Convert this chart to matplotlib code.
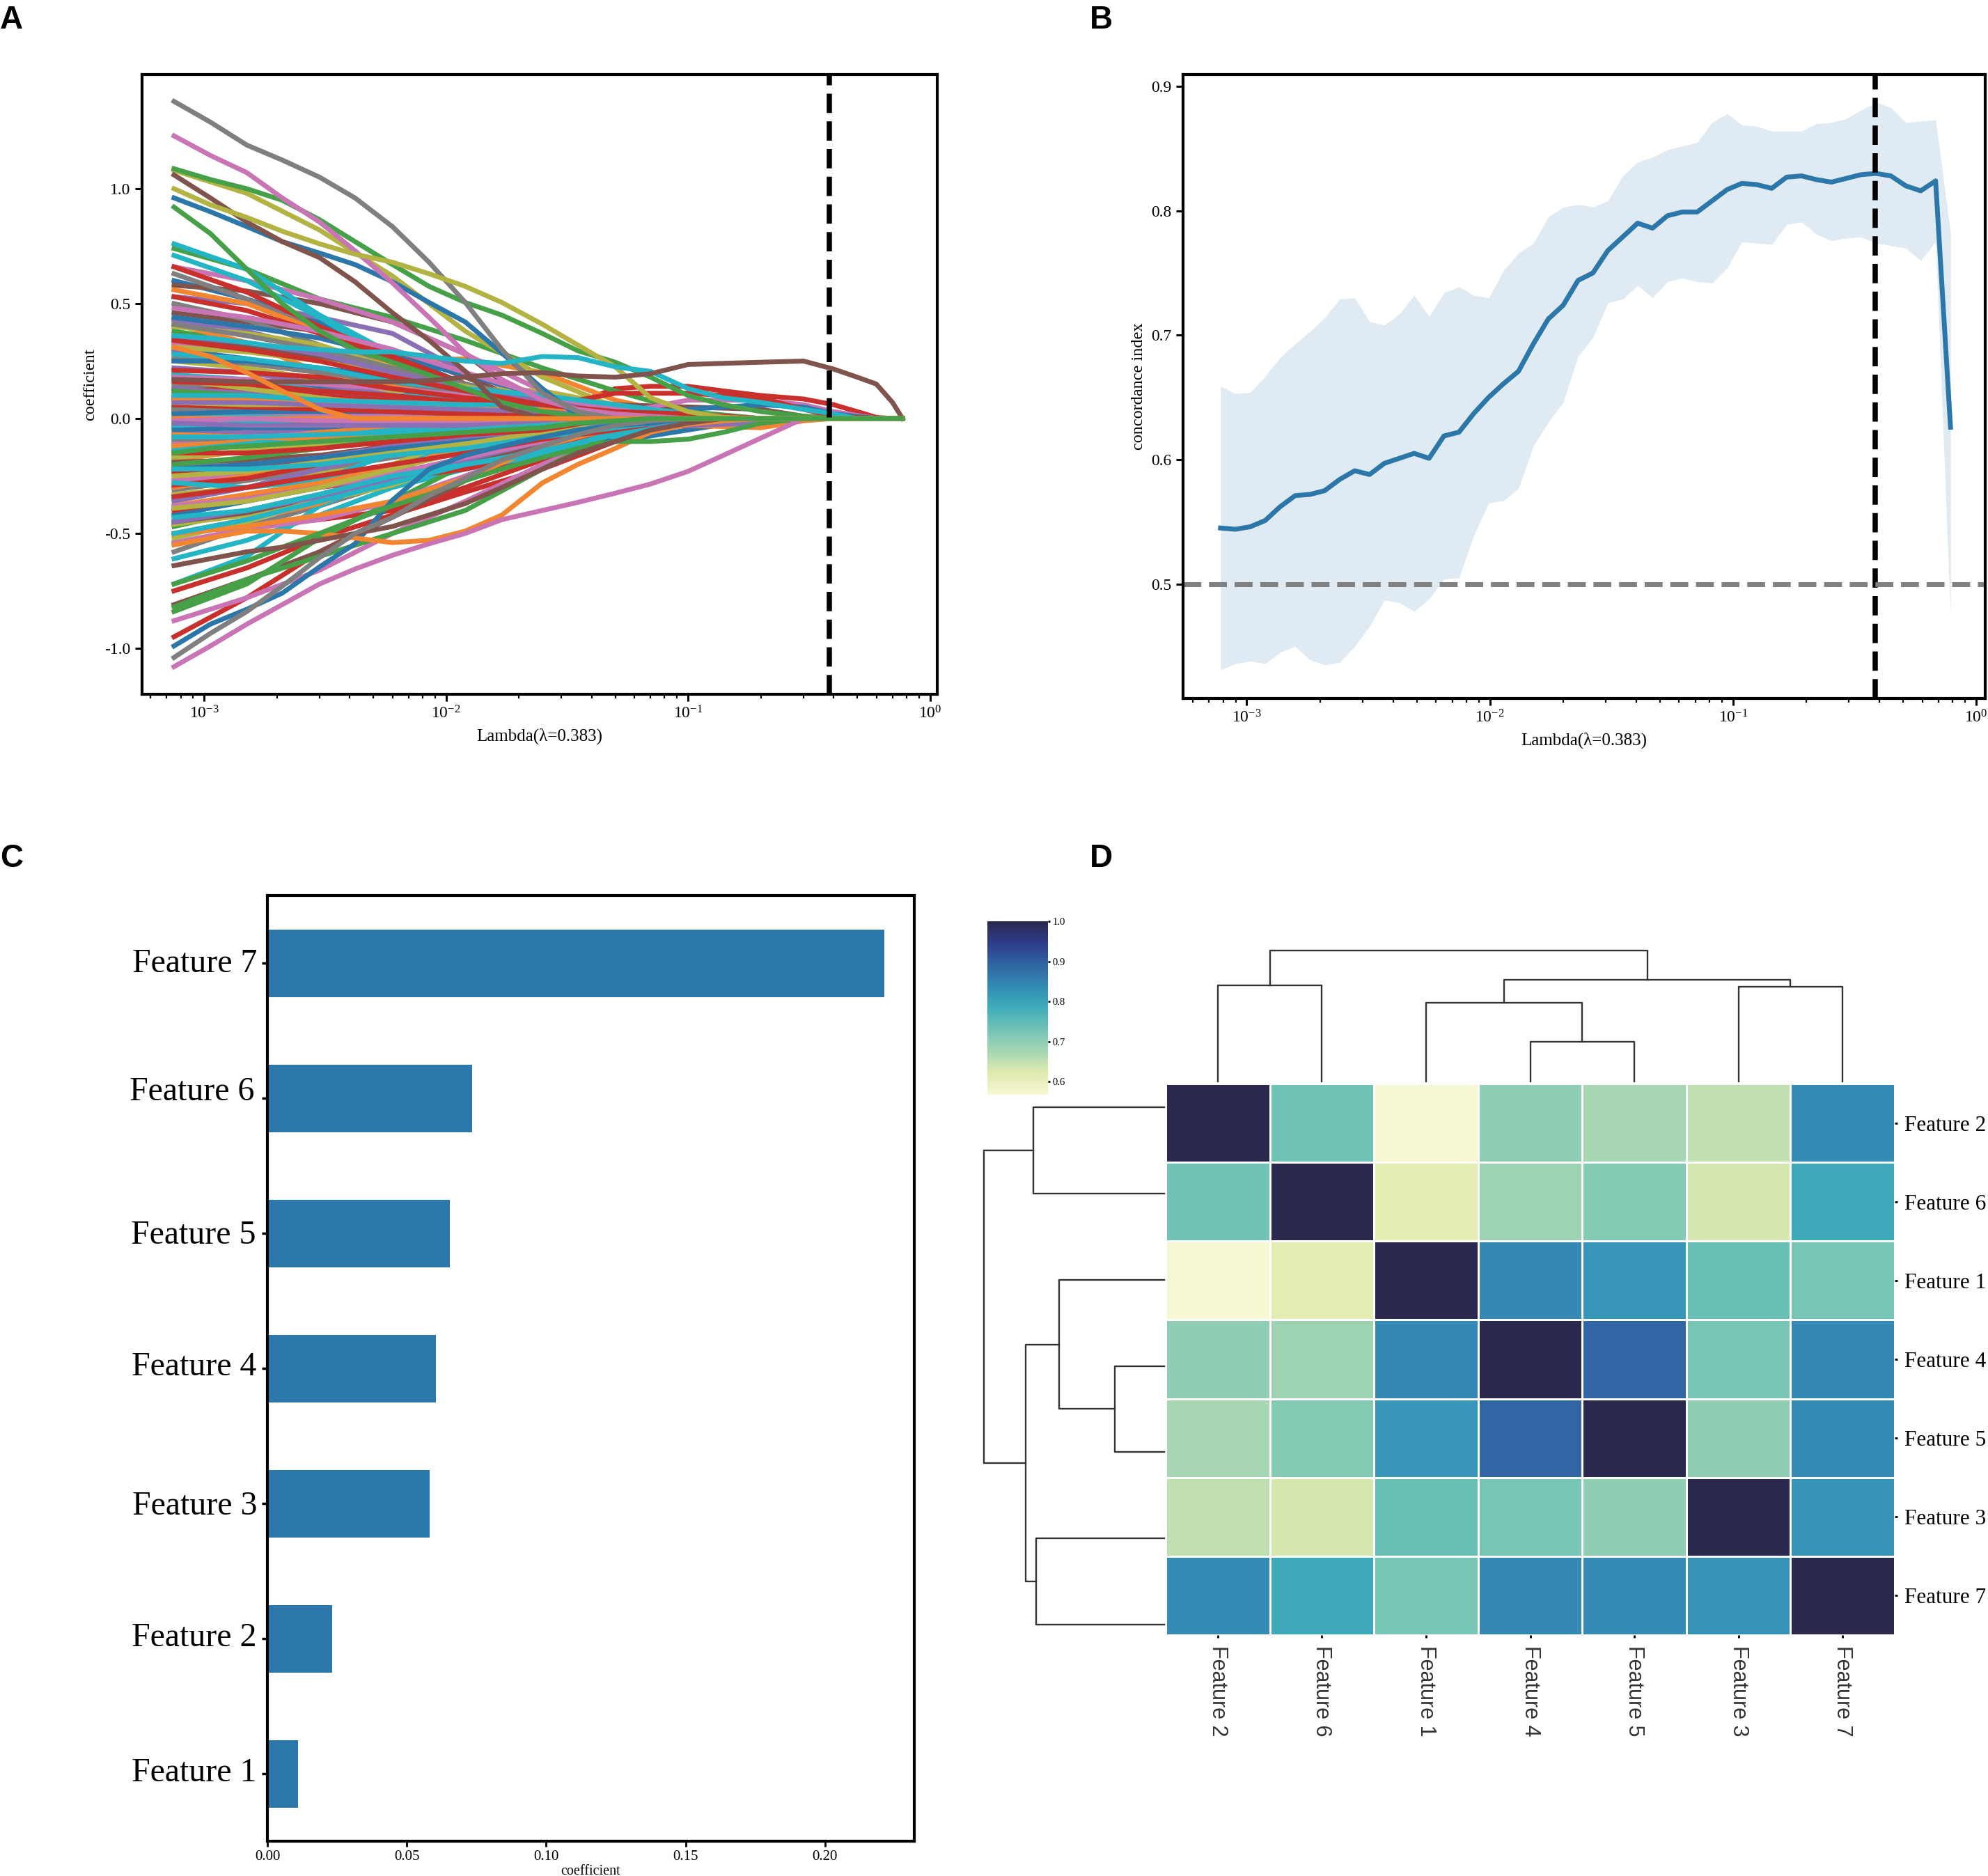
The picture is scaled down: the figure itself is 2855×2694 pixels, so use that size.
import matplotlib
matplotlib.use("Agg")
import matplotlib.pyplot as plt
from matplotlib.colors import LinearSegmentedColormap

W, H = 2855, 2694

plt.rcParams['font.family'] = ['Liberation Serif', 'DejaVu Serif']
plt.rcParams['mathtext.fontset'] = 'stix'

line_colors = ['#2c77aa', '#f28530', '#45a047', '#c9302c', '#8b6fb5',
               '#80544c', '#c974b5', '#7f7f7f', '#b2b342', '#23b5c5']

# ---- panel A: coefficient paths, read at these lambdas, zero after the list ends
path_lambda = [0.00075, 0.0015, 0.003, 0.006, 0.012, 0.025, 0.05, 0.1, 0.2, 0.3, 0.4, 0.6, 0.77]

paths_blue = [
    [.60, .52, .42, .28, .15, .05],
    [.30, .26, .2, .13, .07, .02],
    [.19, .16, .13, .09, .06, .02],
    [.09, .07, .05, .03, .01],
    [.44, .4, .35, .27, .19, .1, .04],
    [-.42, -.36, -.3, -.2, -.12, -.08, -.1, -.05],
    [.05, .04, .03, .02, .01, 0, .01, .04, .06, .05, .02],
    [-.05, -.04, -.04, -.03, -.03, -.02, -.02, -.01],
    [.25, .25, .22, .18, .12, .08, .03],
    [-.22, -.2, -.17, -.13, -.1, -.07, -.04, -.02],
    [.02, .03, .03, .03, .02, .02, .01],
]
paths_orange = [
    [.32, .3, .28, .25, .26, .2, .08, .01],
    [.56, .5, .38, .24, .12, .06, .02],
    [.41, .33, .2, .08, .03],
    [.26, .24, .2, .15, .12, .08, .05, .02],
    [.18, .14, .1, .06, .04, .02],
    [-.18, -.14, -.09, -.05, -.02],
    [-.3, -.25, -.2, -.14, -.08, -.03],
    [-.5, -.44, -.37, -.24, -.1, -.03],
    [-.38, -.33, -.28, -.21, -.14, -.07, -.03],
    [-.12, -.1, -.06, -.04, -.02],
    [-.5, -.47, -.42, -.36, -.26, -.12, -.04],
    [0, 0, 0, 0, 0, 0, -.01, -.03, -.04, -.01],
    [.09, .09, .08, .07, .06, .05, .03, .01],
    [-.07, -.08, -.09, -.08, -.05, -.03],
]
paths_green = [
    [.74, .65, .52, .44, .34, .22, .12, .03],
    [.38, .33, .26, .17, .1, .05, .02],
    [.03, .02, .01],
    [-.11, -.09, -.07, -.05, -.03, -.02, -.01],
    [-.47, -.4, -.33, -.25, -.17, -.12, -.06],
    [-.82, -.7, -.6, -.5, -.4, -.22, -.06, -.02],
    [-.84, -.72, -.52, -.36, -.2, -.07, -.02],
    [-.2, -.17, -.13, -.09, -.05, -.02],
    [.12, .1, .08, .06, .05, .04, .02],
]
paths_red = [
    [-.95, -.78, -.58, -.42, -.26, -.15, -.05, -.01],
    [-.75, -.65, -.52, -.42, -.32, -.22, -.1, -.02],
    [-.5, -.47, -.44, -.4, -.3, -.18, -.08],
    [-.24, -.21, -.18, -.13, -.08, -.04],
    [.66, .55, .4, .27, .15, .06, .01],
    [.12, .13, .11, .08, .05, .05, .04, .01],
    [-.29, -.26, -.2, -.1, -.04, -.02],
    [.53, .47, .37, .26, .15, .06, .02],
    [-.4, -.35, -.3, -.26, -.22, -.14, -.06, -.03],
    [.16, .15, .12, .1, .07, .05, .11, .11, .09, .04, .01],
    [.06, .05, .04, .03, .02, .01],
    [-.15, -.15, -.13, -.1, -.07, -.05, -.03],
    [-.34, -.3, -.25, -.2, -.15, -.09, -.05, -.02],
    [.34, .3, .25, .18, .12, .06, .03],
    [.21, .2, .18, .13, .09, .06, .03, .02],
]
paths_purple = [
    [.53, .5, .44, .37, .2, .08, .03],
    [.43, .38, .3, .2, .12, .05, .01],
    [.29, .25, .21, .15, .1, .05, .02],
    [-.07, -.06, -.05, -.04, -.03, -.03, -.04, -.03, -.01],
    [-.13, -.11, -.08, -.05, -.03, -.02, -.01],
    [.13, .11, .08, .06, .03, .02, .01],
    [-.36, -.3, -.22, -.14, -.08, -.04],
    [.22, .2, .15, .1, .07, .03],
    [-.22, -.2, -.17, -.12, -.09, -.05, -.03],
    [.36, .33, .28, .2, .13, .08, .03],
    [-.45, -.4, -.34, -.26, -.18, -.1, -.04],
    [.07, .07, .06, .05, .04, .03, .03, .02],
    [-.02, -.03, -.03, -.03, -.03, -.02, -.02, -.03, -.02],
]
paths_brown = [
    [.58, .555, .5, .42, .28, .03],
    [.46, .42, .38, .3, .18, .05],
    [-.81, -.7, -.58, -.43, -.27, -.13, -.05],
    [-.03, -.03, -.02, -.02, -.01],
    [.09, .08, .07, .06, .05, .04, .06, .05, .04, .01],
    [.35, .32, .26, .19, .13, .07, .02],
    [-.19, -.18, -.16, -.12, -.08, -.04],
    [-.45, -.41, -.34, -.26, -.19, -.11, -.04],
]
paths_pink = [
    [.66, .6, .52, .42, .28, .12, .05, .02],
    [.33, .3, .26, .2, .13, .06, .02],
    [-.88, -.78, -.66, -.5, -.36, -.2, -.07, -.01],
    [-.27, -.24, -.2, -.16, -.1, -.05],
    [-.1, -.09, -.06, -.04, -.02],
    [0, 0, 0, 0, 0, .01, .02, .08, .08, .06, .03],
    [.04, .03, .02, .01],
    [-.54, -.48, -.44, -.36, -.25, -.12, -.04],
    [.18, .17, .15, .13, .1, .07, .04, .02],
    [.48, .44, .38, .3, .2, .1, .04],
    [-.38, -.35, -.3, -.24, -.17, -.1, -.04],
    [-.01, 0, -.01, -.01, -.02, -.01, -.01],
]
paths_gray = [
    [.63, .52, .38, .2, .05],
    [.5, .43, .32, .2, .1, .05, .02],
    [-.58, -.47, -.38, -.28, -.18, -.08, -.03],
    [.14, .13, .11, .1, .07, .04, .01],
    [-.2, -.18, -.16, -.14, -.1, -.05, -.02],
    [-.31, -.27, -.22, -.17, -.12, -.06, -.02],
    [.26, .24, .2, .16, .11, .07, .03],
    [-.09, -.09, -.08, -.07, -.06, -.04, -.02],
    [.41, .36, .3, .22, .15, .08, .03],
    [.04, .05, .04, .04, .03, .02, .01],
]
paths_olive = [
    [1.08, .98, .82, .62, .38, .18, .05],
    [.25, .22, .17, .12, .13, .12, .06, .01],
    [.4, .37, .32, .22, .13, .05, .02],
    [-.33, -.3, -.24, -.15, -.08, -.03],
    [-.46, -.42, -.36, -.29, -.18, -.07],
    [-.17, -.14, -.11, -.08, -.04, -.01],
    [.17, .13, .09, .05, .02],
    [-.52, -.45, -.35, -.2, -.08],
    [.31, .29, .25, .19, .14, .08, .04, .01],
    [-.25, -.23, -.19, -.15, -.11, -.06, -.02],
    [.07, .06, .06, .05, .05, .04, .02],
    [-.39, -.36, -.3, -.22, -.14, -.07, -.02],
]
paths_cyan = [
    [.76, .65, .45, .28, .12, .05],
    [.71, .6, .44, .25, .14, .08, .02],
    [.02, .02, .01],
    [-.61, -.53, -.42, -.3, -.22, -.16, -.08, -.02],
    [-.72, -.6, -.38, -.24, -.2, -.13, -.05],
    [-.35, -.3, -.26, -.2, -.12, -.05],
    [-.28, -.3, -.27, -.15, -.08, -.03],
    [.19, .17, .12, .1, .09, .09, .04],
    [-.03, -.02, 0, -.02, -.02, -.01],
    [-.14, -.11, -.08, -.05, -.02],
    [-.43, -.4, -.33, -.25, -.2, -.15, -.06],
    [.28, .26, .22, .16, .13, .1, .06, .02],
    [-.22, -.22, -.2, -.16, -.13, -.08, -.04],
    [.1, .1, .08, .07, .06, .06, .03],
    [-.08, -.08, -.07, -.06, -.05, -.03, -.01],
    [-.5, -.44, -.36, -.28, -.2, -.14, -.07, -.02],
]

# the outer, easily seen paths were read more closely
fine_lambda = [.00075, .00106, .0015, .0021, .003, .0042, .006, .0085, .012, .017, .025, .035,
               .05, .07, .1, .14, .2, .3, .4, .5, .6, .7, .77]
fine_gray_top = [1.38, 1.29, 1.19, 1.125, 1.05, .96, .835, .68, .505, .30, .11, .03]
fine_pink_top = [1.23, 1.145, 1.07, .96, .855, .73, .59, .44, .285, .17, .08, .04, .02, .01]
fine_green_top = [1.087, 1.04, 1.0, .95, .865, .77, .67, .575, .505, .45, .37, .295, .245, .18, .10, .06, .03, .01]
fine_olive_top = [1.0, .93, .875, .815, .76, .715, .68, .63, .575, .505, .41, .32, .225, .09, .03, .005]
fine_brown_top = [1.06, .96, .855, .77, .70, .595, .46, .34, .205, .05]
fine_blue_top = [.96, .90, .835, .77, .72, .67, .595, .505, .42, .285, .13, .01]
fine_green_steep = [.92, .805, .65, .50, .38, .30, .245, .19, .13, .07, .03, .01]
fine_pink_low = [-1.08, -.99, -.895, -.81, -.72, -.655, -.595, -.545, -.5, -.44, -.40, -.365,
                 -.325, -.285, -.23, -.16, -.085]
fine_orange_low = [-.55, -.52, -.49, -.49, -.50, -.52, -.54, -.53, -.49, -.42, -.28, -.2, -.13, -.06, -.025, -.01]
fine_brown_flat = [.17, .165, .16, .16, .16, .16, .16, .165, .18, .195, .2, .185, .18, .195, .235,
                   .24, .245, .25, .215, .18, .15, .07, 0]
fine_cyan_flat = [.36, .35, .33, .31, .30, .29, .29, .27, .25, .24, .27, .265, .225, .205, .13,
                  .09, .07, .04, .02]
fine_red_bump = [.03, .03, .02, .02, .02, .02, .02, .03, .04, .04, .05, .07, .13, .14, .14, .12,
                 .10, .085, .06, .03, .005]
fine_blue_low = [-.99, -.895, -.83, -.76, -.645, -.545, -.355, -.22, -.16, -.12, -.08, -.05, -.03, -.02]
fine_gray_low = [-1.04, -.935, -.84, -.73, -.605, -.5, -.43, -.335, -.26, -.18, -.12, -.07, -.03, -.01]
fine_brown_low = [-.64, -.61, -.58, -.56, -.53, -.5, -.47, -.42, -.37, -.3, -.22, -.15, -.1, -.05, -.02]
fine_green_low = [-.72, -.67, -.62, -.56, -.5, -.44, -.38, -.33, -.27, -.22, -.17, -.13, -.1, -.1, -.09, -.06, -.02]
# these two lie on zero on top of everything else
fine_orange_zero = [.31, .27, .2, .12, .04]
fine_green_zero = [-.15, -.13, -.12, -.11, -.1, -.09, -.08, -.07, -.06, -.05, -.04, -.02, -.01]

# ---- panel B: cross validated concordance index
cv_lambda = [.00078, .000898, .001034, .00119, .00137, .00158, .00182, .00209, .00241, .00278,
             .0032, .00368, .00424, .00488, .00562, .00647, .00746, .00858, .00988, .01138,
             .01311, .01509, .01738, .02001, .02304, .02653, .03055, .03519, .04051, .04666,
             .05372, .06187, .07123, .08204, .09447, .10876, .12525, .14423, .16608, .19125,
             .22023, .25362, .292, .33626, .38726, .44585, .51345, .59127, .68077, .78398]
cv_mean = [.545, .544, .546, .551, .562, .571, .572, .575, .584, .591,
           .588, .597, .601, .605, .601, .619, .622, .637, .650, .661,
           .671, .693, .713, .724, .744, .750, .768, .779, .790, .786,
           .796, .799, .799, .808, .817, .822, .821, .818, .827, .828,
           .825, .823, .826, .829, .830, .828, .820, .816, .824, .626]
cv_upper = [.659, .653, .654, .667, .682, .693, .703, .714, .729, .730,
            .711, .708, .717, .732, .715, .734, .739, .732, .730, .752,
            .766, .774, .795, .803, .805, .803, .808, .828, .839, .843,
            .849, .852, .855, .871, .878, .869, .868, .864, .864, .864,
            .870, .871, .874, .881, .887, .883, .871, .872, .873, .782]
cv_lower = [.431, .436, .438, .436, .445, .450, .439, .435, .437, .450,
            .466, .487, .485, .478, .488, .504, .505, .539, .565, .567,
            .577, .611, .630, .646, .683, .698, .726, .729, .740, .730,
            .743, .746, .743, .742, .754, .775, .774, .773, .789, .791,
            .781, .776, .778, .779, .774, .772, .770, .760, .775, .473]
best_lambda = 0.383

# ---- panel C: selected features
bar_names = ['Feature 1', 'Feature 2', 'Feature 3', 'Feature 4', 'Feature 5', 'Feature 6', 'Feature 7']
bar_values = [.0109, .0232, .0583, .0605, .0655, .0733, .2212]
# the labels sit a little off their ticks in the figure (pixels)
bar_label_dx = [-16, -16, -15, -16, -17, -19, -15]
bar_label_dy = [1, 1, -4, 2, -3, 9, -1]

# ---- panel D: correlation matrix and its clustering
heat_names = ['Feature 2', 'Feature 6', 'Feature 1', 'Feature 4', 'Feature 5', 'Feature 3', 'Feature 7']
heat_values = [
    [1.00, .73, .567, .70, .675, .65, .835],
    [.73, 1.00, .615, .685, .71, .63, .79],
    [.567, .615, 1.00, .84, .82, .74, .725],
    [.70, .685, .84, 1.00, .89, .725, .84],
    [.675, .71, .82, .89, 1.00, .70, .835],
    [.65, .63, .74, .725, .70, 1.00, .825],
    [.835, .79, .725, .84, .835, .825, 1.00],
]
heat_colors = ['#f7f7d4', '#dfeaae', '#a6d6b2', '#72c3b5', '#3fadba', '#338bb5', '#3065a2', '#2e3d88', '#2b2850']
# merges as in a linkage table: leaves 0-6, every merge makes the next id
col_link_a = [3, 2, 5, 0, 8, 10]
col_link_b = [4, 7, 6, 1, 9, 11]
col_link_h = [.305, .6, .722, .732, .776, 1.0]
row_link_a = [3, 2, 5, 0, 8, 10]
row_link_b = [4, 7, 6, 1, 9, 11]
row_link_h = [.273, .582, .709, .724, .767, 1.0]

fig = plt.figure(figsize=(W / 100, H / 100), dpi=100, facecolor='white')


def px_axes(left, right, top, bottom):
    return fig.add_axes([left / W, 1 - bottom / H, (right - left) / W, (bottom - top) / H])


def draw_dendro(ax, link_a, link_b, link_h, horizontal):
    pos = {i: i + 0.5 for i in range(7)}
    height = {i: 0.0 for i in range(7)}
    for k, (a, b, h) in enumerate(zip(link_a, link_b, link_h)):
        xs = [pos[a], pos[a], pos[b], pos[b]]
        ys = [height[a], h, h, height[b]]
        if horizontal:
            ax.plot(ys, xs, color='#333333', lw=1.7, clip_on=False)
        else:
            ax.plot(xs, ys, color='#333333', lw=1.7, clip_on=False)
        pos[7 + k] = (pos[a] + pos[b]) / 2
        height[7 + k] = h
    ax.axis('off')


def draw_path(ax, lams, vals, color):
    # lasso coefficients stay at zero once they have dropped out
    vals = vals + [0] * (len(lams) - len(vals))
    ax.plot(lams, vals, color=color, lw=5)


# panel A
ax = px_axes(204, 1346, 107, 997)
draw_path(ax, fine_lambda, fine_red_bump, line_colors[3])
groups = [paths_blue, paths_orange, paths_green, paths_red, paths_purple,
          paths_brown, paths_pink, paths_gray, paths_olive, paths_cyan]
for n in range(max(len(g) for g in groups)):
    for c, g in enumerate(groups):
        if n < len(g):
            draw_path(ax, path_lambda, g[n], line_colors[c])
fine_paths = [(fine_blue_top, 0), (fine_blue_low, 0), (fine_orange_low, 1), (fine_green_top, 2),
              (fine_green_steep, 2), (fine_green_low, 2), (fine_brown_top, 5),
              (fine_brown_low, 5), (fine_pink_top, 6), (fine_pink_low, 6), (fine_gray_top, 7),
              (fine_gray_low, 7), (fine_olive_top, 8), (fine_cyan_flat, 9), (fine_brown_flat, 5),
              (fine_orange_zero, 1), (fine_green_zero, 2)]
for vals, c in fine_paths:
    draw_path(ax, fine_lambda, vals, line_colors[c])
ax.axvline(best_lambda, color='black', ls='--', lw=5.4)
ax.set_xscale('log')
ax.set_xlim(10 ** -3.257, 10 ** 0.030)
ax.set_ylim(-1.2, 1.497)
ax.set_yticks([-1, -.5, 0, .5, 1])
ax.set_yticklabels(['-1.0', '-0.5', '0.0', '0.5', '1.0'])
ax.tick_params(labelsize=17, width=2.2, length=7, pad=5)
ax.tick_params(which='minor', width=1.6, length=4)
ax.set_xlabel('Lambda(λ=0.383)', fontsize=18, labelpad=6)
ax.set_ylabel('coefficient', fontsize=17.5, labelpad=7)
for s in ax.spines.values():
    s.set_linewidth(3)

# panel B
ax = px_axes(1699, 2851, 107, 1003)
ax.fill_between(cv_lambda, cv_lower, cv_upper, color='#2c77aa', alpha=0.15, lw=0)
ax.plot(cv_lambda, cv_mean, color='#2c77aa', lw=5)
ax.axvline(best_lambda, color='black', ls='--', lw=5.4)
ax.axhline(0.5, color='gray', ls='--', lw=5.0)
ax.set_xscale('log')
ax.set_xlim(10 ** -3.262, 10 ** 0.037)
ax.set_ylim(.408, .9095)
ax.set_yticks([.5, .6, .7, .8, .9])
ax.tick_params(labelsize=17, width=2.2, length=7, pad=5)
ax.tick_params(which='minor', width=1.6, length=4)
ax.set_xlabel('Lambda(λ=0.383)', fontsize=18, labelpad=6)
ax.set_ylabel('concordance index', fontsize=17.5, labelpad=5)
for s in ax.spines.values():
    s.set_linewidth(3)

# panel C
ax = px_axes(384, 1313, 1286, 2644)
ax.barh(bar_names, bar_values, height=0.5, color='#2c77aa')
ax.set_xlim(0, .232)
ax.set_ylim(-.5, 6.5)
ax.set_xticks([0, .05, .1, .15, .2])
ax.set_xticklabels(['0.00', '0.05', '0.10', '0.15', '0.20'])
ax.tick_params(axis='x', labelsize=15, width=2, length=6)
ax.tick_params(axis='y', labelleft=False, width=2.5, length=6)
for i, name in enumerate(bar_names):
    ax.annotate(name, xy=(0, i), xycoords=('axes fraction', 'data'),
                xytext=(bar_label_dx[i], bar_label_dy[i]), textcoords='offset pixels',
                ha='right', va='center', fontsize=34.5)
ax.set_xlabel('coefficient', fontsize=14.5, labelpad=1)
for s in ax.spines.values():
    s.set_linewidth(3)

# panel D
cmap = LinearSegmentedColormap.from_list('heat', heat_colors)
ax = px_axes(1674, 2721, 1556, 2348)
mesh = ax.pcolormesh(heat_values, cmap=cmap, vmin=.567, vmax=1, edgecolors='white', linewidth=2)
ax.set_xlim(0, 7)
ax.set_ylim(7, 0)
ax.set_xticks([i + .5 for i in range(7)])
ax.set_xticklabels(heat_names, rotation=270, fontsize=22, family='Liberation Sans', color='#333333')
ax.set_yticks([i + .5 for i in range(7)])
ax.set_yticklabels(heat_names, fontsize=22.5)
ax.yaxis.tick_right()
ax.tick_params(axis='x', width=2, length=3, pad=8)
ax.tick_params(axis='y', width=2, length=3, pad=7)
for s in ax.spines.values():
    s.set_visible(False)

top_ax = px_axes(1674, 2721, 1365, 1553)
top_ax.set_xlim(0, 7)
top_ax.set_ylim(0, 1)
draw_dendro(top_ax, col_link_a, col_link_b, col_link_h, False)

side_ax = px_axes(1413, 1672, 1528, 2395)
side_ax.set_xlim(1, 0)
side_ax.set_ylim(7, 0)
draw_dendro(side_ax, row_link_a, row_link_b, row_link_h, True)

cax = px_axes(1418, 1505, 1323, 1572)
cb = fig.colorbar(mesh, cax=cax)
cb.set_ticks([.6, .7, .8, .9, 1.0])
cb.ax.tick_params(labelsize=10.5, width=2, length=2.5, pad=2)
cb.outline.set_visible(False)

# panel letters
for letter, x, y in [('A', 0, 29), ('B', 1565, 29), ('C', 0, 1233), ('D', 1565, 1233)]:
    fig.text(x / W, 1 - y / H, letter, fontsize=33, fontweight='bold',
             family='Liberation Sans', va='center', ha='left')

fig.savefig('out.png', dpi=100)
